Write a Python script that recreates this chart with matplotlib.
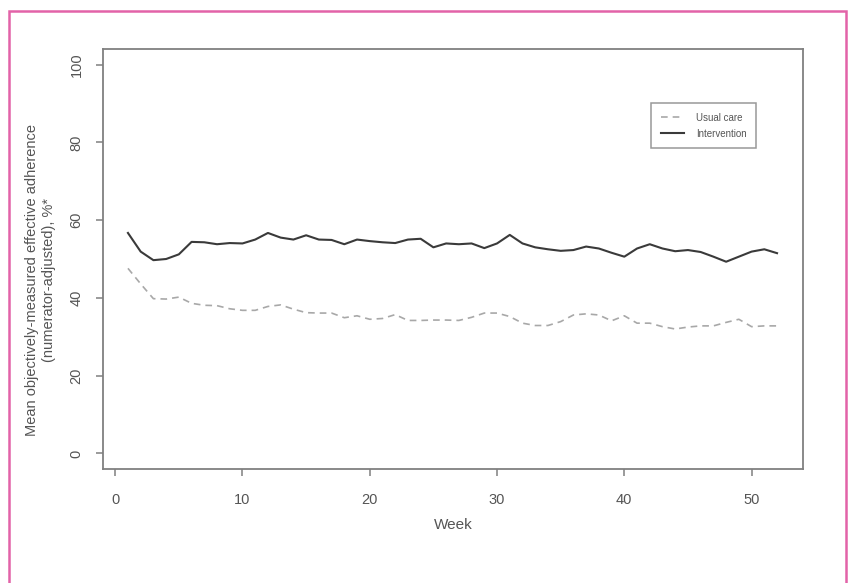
import matplotlib
matplotlib.use("Agg")
import matplotlib.pyplot as plt
from matplotlib.patches import Rectangle
import numpy as np

semanas = np.arange(1, 53)

intervencion = [
    56.7, 51.9, 49.7, 50.0, 51.2, 54.4, 54.3, 53.8, 54.1, 54.0,
    55.0, 56.7, 55.5, 55.0, 56.1, 55.0, 54.9, 53.8, 55.0, 54.6,
    54.3, 54.1, 55.0, 55.2, 53.0, 54.0, 53.8, 54.0, 52.8, 54.0,
    56.2, 54.0, 53.0, 52.5, 52.1, 52.3, 53.2, 52.7, 51.6, 50.6,
    52.7, 53.8, 52.7, 52.0, 52.3, 51.8, 50.6, 49.3, 50.6, 51.9,
    52.5, 51.5,
]

atencion_usual = [
    47.6, 43.6, 39.8, 39.7, 40.2, 38.6, 38.1, 38.0, 37.2, 36.8,
    36.8, 37.8, 38.2, 37.1, 36.2, 36.1, 36.1, 34.9, 35.4, 34.5,
    34.7, 35.7, 34.2, 34.2, 34.3, 34.3, 34.2, 35.0, 36.1, 36.1,
    35.2, 33.5, 32.9, 32.9, 33.9, 35.6, 35.9, 35.6, 34.1, 35.4,
    33.5, 33.5, 32.6, 32.0, 32.5, 32.8, 32.8, 33.7, 34.5, 32.6,
    32.8, 32.8,
]

ticks_x = [0, 10, 20, 30, 40, 50]
ticks_y = [0, 20, 40, 60, 80, 100]

plt.rcParams["font.family"] = ["Liberation Sans", "DejaVu Sans"]

fig = plt.figure(figsize=(8.51, 5.83), dpi=100)
ax = fig.add_axes([103 / 851, 1 - 469 / 583, 700 / 851, 420 / 583])

gris_ejes = "#808080"
gris_texto = "#555555"

ax.plot(semanas, atencion_usual, color="#a8a8a8", linewidth=1.2,
        linestyle=(0, (4, 3)), label="Usual care")
ax.plot(semanas, intervencion, color="#3a3a3a", linewidth=1.5,
        label="Intervention")

ax.set_xlim(-0.96, 54.04)
ax.set_ylim(-4, 104)
ax.set_xticks(ticks_x)
ax.set_yticks(ticks_y)
ax.set_yticklabels([str(v) for v in ticks_y], rotation=90, va="center")

for lado in ax.spines.values():
    lado.set_color(gris_ejes)
    lado.set_linewidth(1.3)

ax.tick_params(axis="both", colors=gris_ejes, length=5, width=1.1,
               labelsize=10.5, labelcolor=gris_texto)
ax.tick_params(axis="x", pad=12)
ax.tick_params(axis="y", pad=9)

ax.set_xlabel("Week", fontsize=11, color=gris_texto, labelpad=8)

fig.text(32 / 851, 1 - 280 / 583,
         "Mean objectively-measured effective adherence",
         rotation=90, ha="center", va="center", fontsize=10.5, color=gris_texto)
fig.text(49 / 851, 1 - 280 / 583,
         "(numerator-adjusted), %*",
         rotation=90, ha="center", va="center", fontsize=10.5, color=gris_texto)

leyenda = ax.legend(loc="upper left", bbox_to_anchor=((651 - 103) / 700, (469 - 103) / 420),
                    fontsize=7, frameon=True, fancybox=False,
                    handlelength=2.4, handletextpad=1.2, borderpad=1.0,
                    labelspacing=0.6, borderaxespad=0)
leyenda.get_frame().set_edgecolor(gris_ejes)
leyenda.get_frame().set_linewidth(1.1)
for t in leyenda.get_texts():
    t.set_color(gris_texto)

marco = Rectangle((9 / 851, -0.05), 837 / 851, 1 - 11 / 583 + 0.05,
                  transform=fig.transFigure, fill=False,
                  edgecolor="#e263a8", linewidth=1.8)
fig.patches.append(marco)

fig.savefig("out.png", dpi=100)
